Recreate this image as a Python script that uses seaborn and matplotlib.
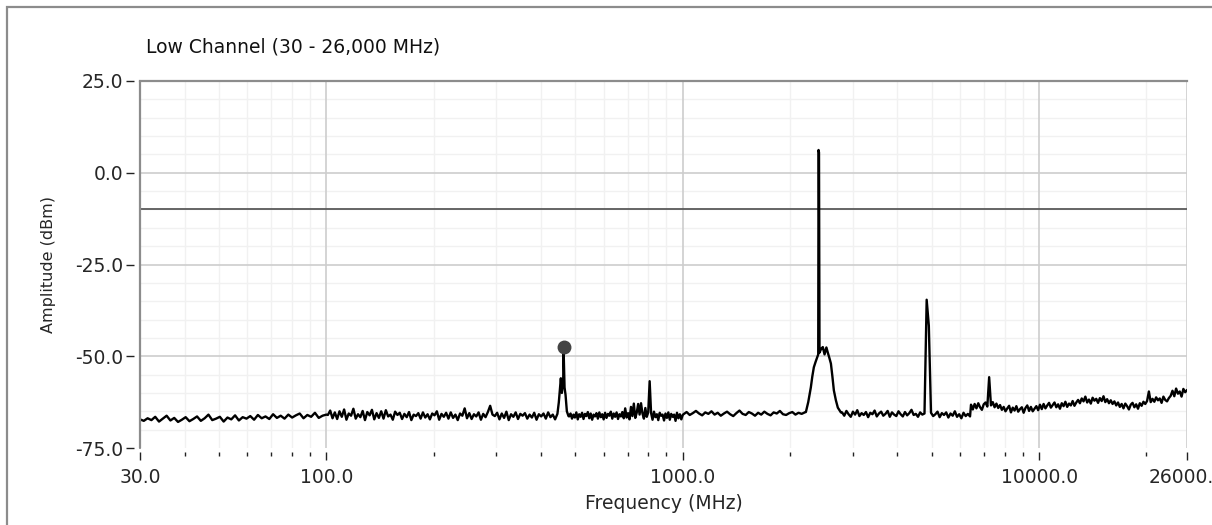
import numpy as np
import pandas as pd
import matplotlib
matplotlib.use("Agg")
import matplotlib.pyplot as plt
from matplotlib.ticker import FixedLocator, LogLocator, NullFormatter
from matplotlib.patches import Rectangle
import seaborn as sns

# ---------------- data ----------------
title_text = "Low Channel (30 - 26,000 MHz)"
x_label = "Frequency (MHz)"
y_label = "Amplitude (dBm)"
x_ticks = [30, 100, 1000, 10000, 26000]
x_tick_labels = ["30.0", "100.0", "1000.0", "10000.0", "26000.0"]
y_ticks = [25, 0, -25, -50, -75]
y_tick_labels = ["25.0", "0.0", "-25.0", "-50.0", "-75.0"]
y_minor_grid = [20, 15, 10, 5, -5, -10, -15, -20, -30, -35, -40, -45,
                -55, -60, -65, -70]
limit_line_dbm = -10
marker_freq = 463
marker_amp = -47.6

# sweep segment 1: 30 - 100 MHz
seg1_range = (30, 100)
seg1_amp = [-67.2, -67.6, -66.9, -67.4, -66.5, -67.8, -67.0, -66.2, -67.5, -66.8,
            -67.9, -67.3, -66.6, -67.7, -67.1, -66.4, -67.6, -66.9, -65.9, -67.4,
            -67.0, -66.5, -67.8, -66.7, -67.2, -66.1, -67.5, -66.6, -67.0, -66.3,
            -67.3, -66.0, -66.9, -66.4, -67.1, -65.8, -66.8, -66.2, -67.0, -65.9,
            -66.7, -66.1, -65.6, -66.9, -66.0, -66.5, -65.4, -66.8, -66.2, -65.9]
# segment 2: 100 - 445 MHz
seg2_range = (101, 445)
seg2_amp = [-66.0, -64.8, -66.9, -65.3, -67.1, -65.0, -66.5, -64.5, -67.3, -65.6,
            -66.2, -64.3, -67.0, -65.8, -66.6, -64.9, -67.4, -65.2, -66.1, -64.6,
            -67.2, -65.5, -66.8, -65.0, -67.0, -64.7, -66.4, -65.9, -67.3, -65.1,
            -66.0, -65.4, -67.1, -65.7, -66.6, -65.2, -67.4, -65.9, -66.3, -65.5,
            -67.0, -65.3, -66.7, -65.8, -67.2, -65.6, -66.1, -65.0, -67.3, -65.7,
            -66.5, -65.4, -67.0, -65.3, -66.8, -65.9, -67.4, -65.6, -66.2, -64.2,
            -66.9, -65.5, -67.1, -65.8, -66.4, -65.3, -67.3, -65.7, -66.6, -65.2,
            -63.5, -65.9, -66.3, -65.4, -67.2, -65.6, -66.8, -65.1, -67.4, -65.8,
            -66.5, -65.3, -67.1, -65.7, -66.2, -65.5, -67.0, -65.9, -66.7, -65.4,
            -67.3, -65.8, -66.4, -65.6, -67.0, -65.3, -66.6, -65.9, -67.2, -65.7]
# spur near 463 MHz
spur1_freq = [449, 455, 458, 462, 463, 466, 469, 473, 478]
spur1_amp = [-62.6, -56.0, -60.0, -56.5, -47.6, -58.5, -60.5, -65.0, -66.3]
# segment 3: 480 - 1000 MHz
seg3_range = (480, 1000)
seg3_amp = [-66.4, -65.6, -67.0, -65.9, -66.7, -65.3, -67.2, -65.8, -66.5, -65.4,
            -67.1, -65.7, -66.3, -65.2, -66.9, -65.6, -67.3, -65.9, -66.4, -65.5,
            -67.0, -65.3, -66.6, -65.8, -67.2, -65.4, -66.8, -65.7, -66.2, -65.1,
            -67.0, -65.6, -66.5, -65.3, -67.1, -65.8, -66.4, -65.2, -66.9, -64.2,
            -66.7, -65.5, -67.2, -63.8, -66.3, -62.9, -66.8, -65.4, -63.0, -65.9,
            -62.8, -65.6, -67.0, -64.1, -66.5, -65.3, -56.8, -65.5, -67.3, -65.1,
            -66.6, -65.8, -67.4, -65.4, -66.2, -65.9, -67.5, -65.6, -66.8, -65.3,
            -67.3, -65.7, -66.5, -65.9, -67.6, -65.4, -66.9, -65.8, -67.2, -66.0]
# segment 4: 1000 - 2200 MHz
seg4_range = (1005, 2200)
seg4_amp = [-65.8, -65.2, -66.0, -65.5, -64.9, -65.6, -66.1, -65.3, -65.7, -65.0,
            -65.9, -65.4, -66.2, -65.6, -65.1, -65.8, -66.3, -65.5, -64.8, -65.7,
            -66.0, -65.2, -65.6, -66.2, -65.4, -65.9, -65.1, -65.7, -66.1, -65.3,
            -65.6, -64.9, -65.8, -66.0, -65.5, -65.2, -65.9, -65.4, -65.7, -65.3]
# 2.4 GHz carrier
carrier_freq = [2216, 2250, 2288, 2310, 2333, 2360, 2385, 2400, 2405, 2412, 2420,
                2445, 2472, 2500, 2530, 2553, 2580, 2605, 2630, 2655, 2690, 2724, 2778]
carrier_amp = [-65.2, -62.5, -58.5, -55.5, -53.0, -51.5, -50.3, -49.5, 6.2, 5.5, -49.0,
               -48.0, -47.5, -49.5, -47.6, -49.0, -50.5, -52.0, -55.5, -59.3, -62.0, -64.0, -65.3]
# segment 5: 2800 - 6400 MHz
seg5_range = (2800, 6400)
seg5_amp = [-65.3, -66.2, -64.9, -65.8, -66.5, -65.1, -65.9, -64.7, -66.3, -65.5,
            -66.0, -65.2, -66.6, -65.4, -65.8, -64.8, -66.4, -65.6, -65.1, -66.2,
            -65.7, -64.9, -66.5, -65.3, -65.9, -66.3, -65.0, -65.8, -66.4, -65.2,
            -66.1, -65.5, -64.6, -66.0, -65.7, -66.5, -65.3, -65.9, -65.6, -34.6,
            -41.7, -65.4, -66.3, -65.8, -65.1, -66.6, -65.5, -66.0, -65.3, -66.7,
            -65.6, -66.2, -65.0, -66.5, -65.8, -66.9, -65.4, -66.3, -65.7, -66.4]
# segment 6: 6440 - 26000 MHz
seg6_range = (6440, 26000)
seg6_amp = [-63.2, -64.5, -63.0, -64.2, -62.8, -63.9, -64.6, -63.1, -62.6, -63.7,
            -55.7, -63.4, -62.5, -63.9, -62.9, -64.1, -63.3, -64.6, -63.8, -65.0,
            -64.2, -63.5, -65.3, -64.0, -64.8, -63.6, -65.1, -64.4, -63.9, -65.4,
            -64.1, -63.4, -64.9, -63.8, -65.0, -64.3, -63.6, -64.7, -63.2, -64.4,
            -63.0, -64.2, -63.4, -62.7, -64.0, -63.3, -62.6, -63.9, -63.1, -64.3,
            -62.8, -63.6, -62.4, -63.8, -62.9, -63.4, -62.2, -63.5, -62.6, -61.9,
            -62.8, -61.5, -62.3, -61.0, -62.6, -61.8, -62.9, -61.3, -62.1, -61.6,
            -62.7, -61.4, -62.2, -60.9, -62.5, -61.7, -62.8, -62.0, -63.0, -62.3,
            -63.4, -62.6, -63.8, -63.0, -64.2, -62.9, -63.6, -64.5, -63.2, -62.7,
            -63.9, -63.1, -64.3, -62.8, -63.5, -62.4, -63.0, -62.2, -59.6, -62.5,
            -61.6, -62.4, -61.2, -62.0, -61.5, -62.7, -61.0, -61.9, -62.3, -61.4,
            -60.8, -59.4, -60.9, -58.8, -60.2, -59.6, -61.0, -58.9, -59.8, -59.2]

# ---------------- assemble sweep ----------------
def sweep(rng, amps):
    return list(np.geomspace(rng[0], rng[1], len(amps))), list(amps)

freqs, amps = [], []
for f, a in [sweep(seg1_range, seg1_amp), sweep(seg2_range, seg2_amp),
             (spur1_freq, spur1_amp), sweep(seg3_range, seg3_amp),
             sweep(seg4_range, seg4_amp), (carrier_freq, carrier_amp),
             sweep(seg5_range, seg5_amp), sweep(seg6_range, seg6_amp)]:
    freqs += list(f)
    amps += list(a)
df = pd.DataFrame({"freq": freqs, "amp": amps})

# ---------------- figure ----------------
sns.set_style("white")
plt.rcParams["font.family"] = ["DejaVu Sans"]
FS = 13.5
SPINE = "#8c8c8c"

fig = plt.figure(figsize=(12.12, 5.25), dpi=100)
ax = fig.add_axes([140 / 1212, 1 - 448 / 525, (1187 - 140) / 1212, (448 - 81) / 525])

sns.lineplot(data=df, x="freq", y="amp", ax=ax, estimator=None, sort=False,
             color="black", linewidth=1.7, zorder=4)
ax.axhline(limit_line_dbm, color="#5a5a5a", linewidth=1.3, zorder=3)
ax.plot([marker_freq], [marker_amp], marker="o", ms=9, color="#444444",
        linestyle="none", zorder=5)

ax.set_xscale("log")
ax.set_xlim(x_ticks[0], x_ticks[-1])
ax.set_ylim(y_ticks[-1], y_ticks[0])

ax.xaxis.set_major_locator(FixedLocator(x_ticks))
ax.set_xticklabels(x_tick_labels)
ax.xaxis.set_minor_locator(LogLocator(base=10, subs=np.arange(2, 10)))
ax.xaxis.set_minor_formatter(NullFormatter())
ax.set_yticks(y_ticks)
ax.set_yticklabels(y_tick_labels)

# grid: vertical from the axis, horizontal drawn for inner levels only
ax.grid(axis="x", which="major", color="#cdcdcd", linewidth=1.2, zorder=1)
ax.grid(axis="x", which="minor", color="#f1f1f1", linewidth=1.0, zorder=0)
ax.grid(axis="y", visible=False)
for v in y_minor_grid:
    ax.axhline(v, color="#f1f1f1", linewidth=1.0, zorder=0.5)
for v in y_ticks[1:-1]:
    ax.axhline(v, color="#cdcdcd", linewidth=1.2, zorder=1)
ax.set_axisbelow(True)

for s in ["right", "bottom", "left"]:
    ax.spines[s].set_visible(False)
ax.spines["bottom"].set_position(("outward", 3))
ax.spines["left"].set_position(("outward", 4))
ax.spines["top"].set_color(SPINE)
ax.spines["top"].set_linewidth(1.6)
# visible left axis line at the plot edge
ax.axvline(x_ticks[0], color=SPINE, linewidth=1.6, zorder=6, clip_on=False)

ax.tick_params(axis="x", which="major", direction="out", length=5.5, width=1.0,
               color="#222222", labelsize=FS, pad=6, bottom=True)
ax.tick_params(axis="x", which="minor", direction="out", length=3.2, width=1.0,
               color="#222222", bottom=True)
ax.tick_params(axis="y", which="major", direction="out", length=6, width=1.0,
               color="#222222", labelsize=FS, pad=2, left=True)
ax.tick_params(axis="y", which="minor", length=0)

ax.set_xlabel(x_label, fontsize=FS, labelpad=5)
ax.set_ylabel(y_label, fontsize=11.5, labelpad=14)
fig.text(146 / 1212, 1 - 47 / 525, title_text, fontsize=FS, ha="left", va="center",
         color="#111111")

# outer frame (left + top visible)
fig.patches.append(Rectangle((7 / 1212, -0.1), 1.2, 1 - 7 / 525 + 0.1,
                             transform=fig.transFigure, fill=False,
                             edgecolor=SPINE, linewidth=1.6))

fig.savefig("out.png", dpi=100)
